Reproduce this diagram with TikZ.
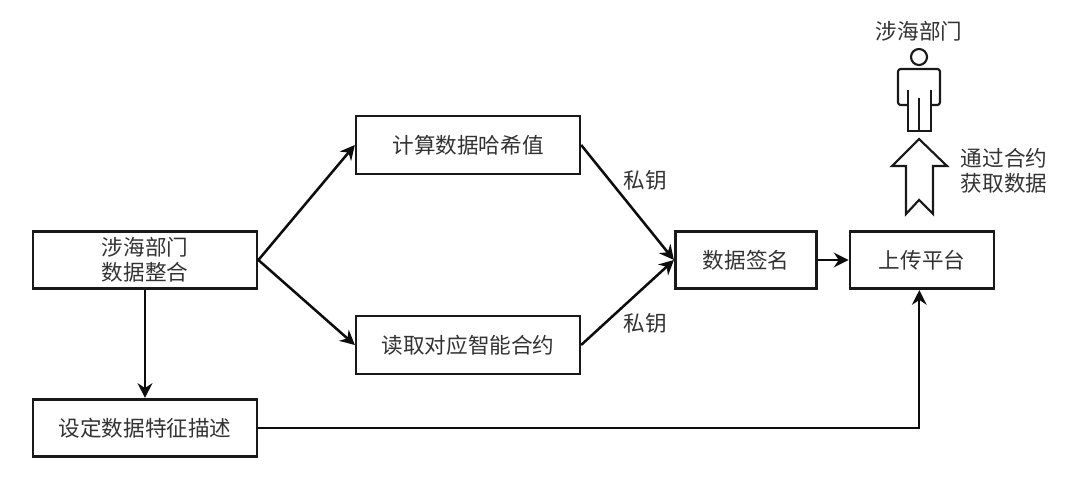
\documentclass[tikz,border=0pt]{standalone}
\usepackage{fontspec}
\newfontfamily\cjk{Noto Sans CJK SC}
\usetikzlibrary{arrows.meta,positioning,shapes}
\tikzset{
  blockbox/.style={draw=black!90,line width=2.1pt,fill=white,minimum height=43pt,inner sep=0pt,align=center,text=black!80,font=\cjk\fontsize{16.2pt}{19pt}\selectfont},
  plaintext/.style={inner sep=0pt,align=center,text=black!80,font=\cjk\fontsize{16.2pt}{19pt}\selectfont},
  flow/.style={draw=black!95,line width=1.9pt,-{Stealth[length=11pt,width=11pt]}},
  figure/.style={draw=black!90,line width=1.6pt}
}
\begin{document}
\begin{tikzpicture}[x=0.75pt,y=-0.75pt]
\useasboundingbox (0,0) rectangle (1080,491);
\node[blockbox,minimum width=168pt] (merge) at (145,260) {涉海部门\\数据整合};
\node[blockbox,minimum width=168pt] (feature) at (145,428) {设定数据特征描述};
\node[blockbox,minimum width=168pt,line width=1.7pt] (hash) at (468,145) {计算数据哈希值};
\node[blockbox,minimum width=168pt,line width=1.7pt] (contract) at (468,345) {读取对应智能合约};
\node[blockbox,minimum width=106pt] (sign) at (746,260) {数据签名};
\node[blockbox,minimum width=108pt] (upload) at (922,260) {上传平台};
\node[plaintext] (keya) at (645,180) {私钥};
\node[plaintext] (keyb) at (645,323) {私钥};
\node[plaintext] (dept) at (919,31) {涉海部门};
\node[plaintext] (fetch) at (1004,171) {通过合约\\获取数据};
\draw[flow] (merge.east)--(hash.west);
\draw[flow] (merge.east)--(contract.west);
\draw[flow] (hash.east)--(sign.west);
\draw[flow] (contract.east)--(sign.west);
\draw[flow] (sign)--(upload);
\draw[flow] (merge)--(feature);
\draw[flow,line width=1.5pt] (feature.east)-|([xshift=-2pt]upload.south);
% person
\draw[figure] (919,57) circle (8);
\draw[figure,rounded corners=2pt] (908,105)--(898,105)--(898,69)--(940,69)--(940,105)--(931,105);
\draw[figure] (908,90)--(908,131)--(931,131)--(931,90) (919,98)--(919,131);
% hollow arrow
\draw[figure,fill=white] (919,139)--(947,166)--(933,166)--(933,214)--(919,200)--(906,214)--(906,166)--(892,166)--cycle;
\end{tikzpicture}
\end{document}
